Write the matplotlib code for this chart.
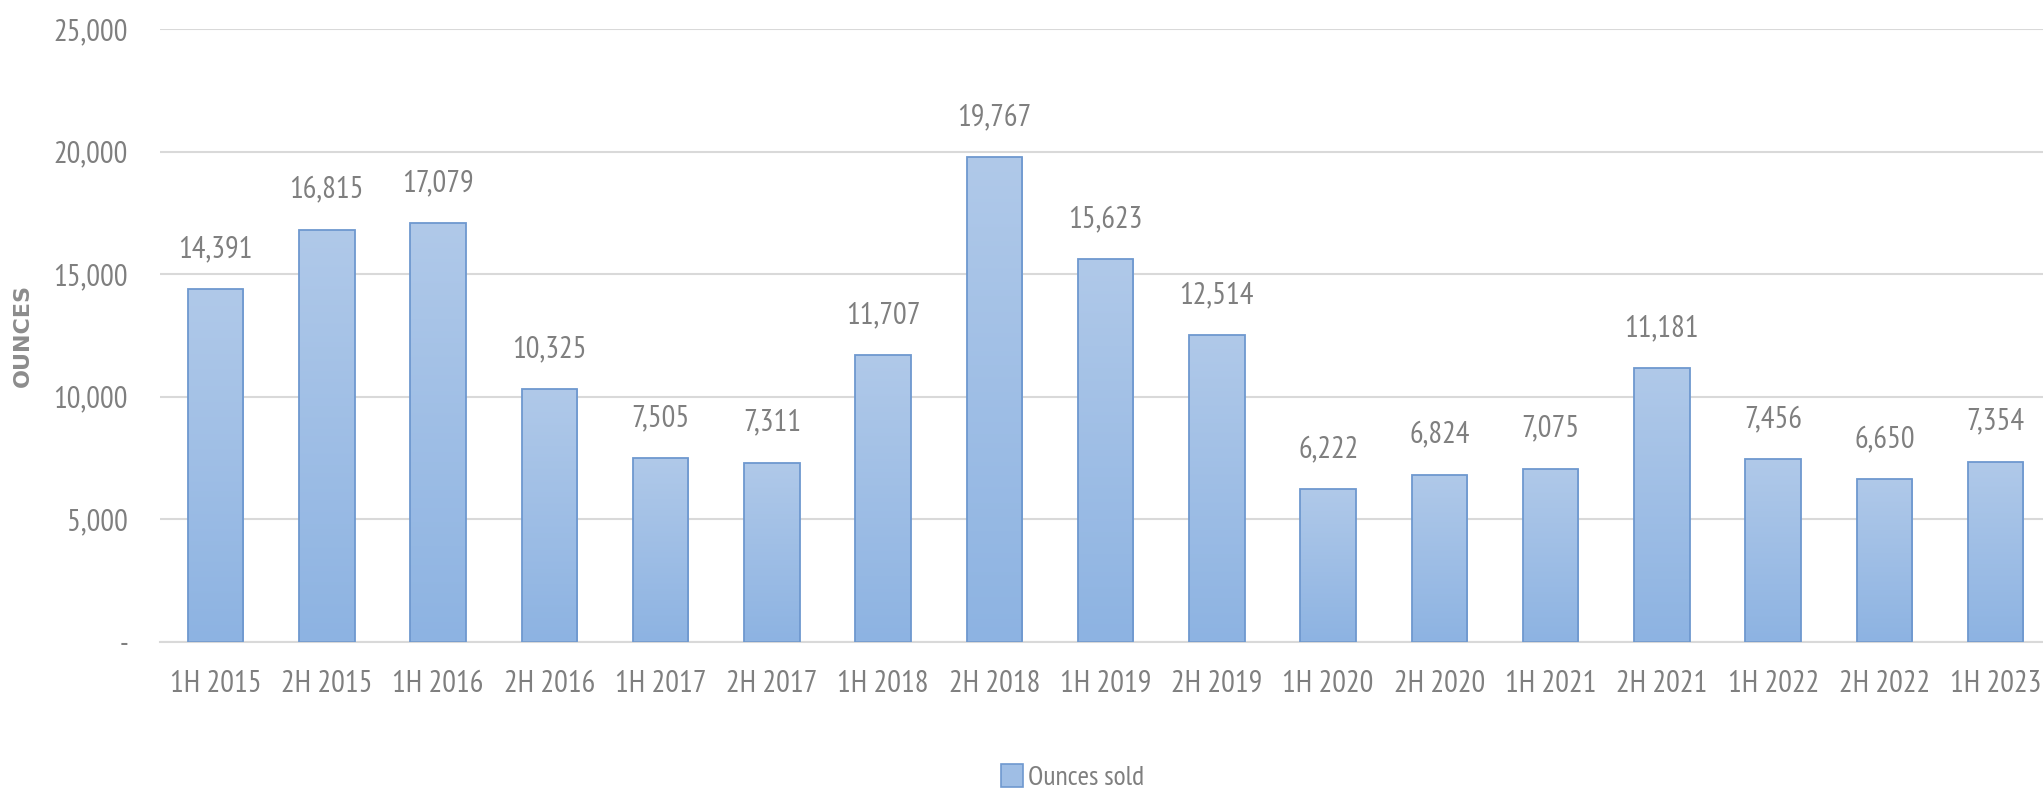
import numpy as np
import matplotlib
matplotlib.use("Agg")
import matplotlib.pyplot as plt
from matplotlib import font_manager as fm
from matplotlib.patches import Patch

periods = ["1H 2015", "2H 2015", "1H 2016", "2H 2016", "1H 2017", "2H 2017",
           "1H 2018", "2H 2018", "1H 2019", "2H 2019", "1H 2020", "2H 2020",
           "1H 2021", "2H 2021", "1H 2022", "2H 2022", "1H 2023"]
ounces_sold = [14391, 16815, 17079, 10325, 7505, 7311, 11707, 19767, 15623,
               12514, 6222, 6824, 7075, 11181, 7456, 6650, 7354]
y_ticks = [0, 5000, 10000, 15000, 20000, 25000]
y_tick_labels = ["-", "5,000", "10,000", "15,000", "20,000", "25,000"]

# narrow font to get close to the squeezed Calibri look
installed = {f.name for f in fm.fontManager.ttflist}
narrow = next((f for f in ["PT Sans Narrow", "Archivo Narrow", "Fira Sans Condensed",
                           "Roboto Condensed", "Carlito", "Liberation Sans"]
               if f in installed), "DejaVu Sans")
plt.rcParams["font.family"] = [narrow, "DejaVu Sans"]

text_gray = "#7f7f7f"
grid_gray = "#d9d9d9"
top_col = np.array([176, 201, 233]) / 255
bot_col = np.array([141, 179, 226]) / 255
edge_col = "#6e98cf"

fig = plt.figure(figsize=(20.43, 7.93), dpi=100)
ax = fig.add_axes([160 / 2043, 151 / 793, 17 * 111.25 / 2043, 613 / 793])

x = np.arange(len(periods))
bars = ax.bar(x, ounces_sold, width=0.5, color="none", edgecolor=edge_col,
              linewidth=1.3, zorder=3)

# vertical gradient inside each bar
grad = np.linspace(0, 1, 256)[:, None]
cmap = matplotlib.colors.LinearSegmentedColormap.from_list("bar", [bot_col, top_col])
for b in bars:
    x0, y0 = b.get_x(), b.get_y()
    w, h = b.get_width(), b.get_height()
    im = ax.imshow(grad, cmap=cmap, origin="lower", aspect="auto",
                   extent=[x0, x0 + w, y0, y0 + h], zorder=2)
    im.set_clip_path(b)

for xi, v in zip(x, ounces_sold):
    ax.annotate(f"{v:,}", (xi, v), xytext=(0, 23), textcoords="offset points",
                ha="center", va="baseline", fontsize=22, color=text_gray)

ax.set_xlim(-0.5, len(periods) - 0.5)
ax.set_ylim(0, 25000)
ax.set_yticks(y_ticks)
ax.set_yticklabels(y_tick_labels)
ax.set_xticks(x)
ax.set_xticklabels(periods)
ax.tick_params(axis="y", length=0, pad=23, labelsize=22, labelcolor=text_gray)
ax.tick_params(axis="x", length=0, pad=20, labelsize=22, labelcolor=text_gray)
ax.yaxis.grid(True, color=grid_gray, linewidth=1.5, zorder=0)
ax.set_axisbelow(True)
for s in ["top", "right", "left"]:
    ax.spines[s].set_visible(False)
ax.spines["bottom"].set_color(grid_gray)
ax.spines["bottom"].set_linewidth(1.5)

ax.set_ylabel("OUNCES", fontsize=16, fontweight="bold", color="#8c8c8c",
              family="DejaVu Sans")
ax.yaxis.set_label_coords(-0.067, 0.5)

handle = Patch(facecolor=(top_col + bot_col) / 2, edgecolor=edge_col, linewidth=1.2)
fig.legend([handle], ["Ounces sold"], loc="center", bbox_to_anchor=(0.525, 0.02),
           frameon=False, fontsize=20, labelcolor=text_gray, handlelength=0.8,
           handleheight=0.9, handletextpad=0.2)

fig.savefig("out.png", dpi=100)
